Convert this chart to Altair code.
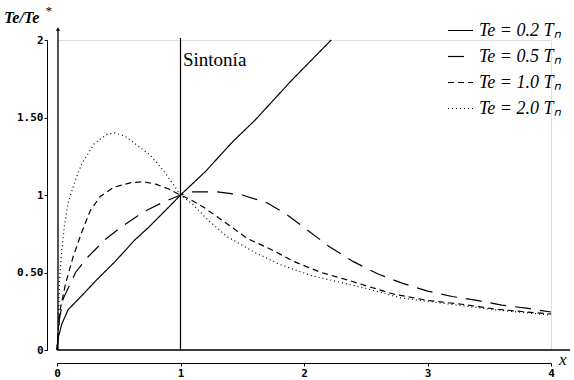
import altair as alt
import pandas as pd

# ---- data ----
series = ["Te = 0.2 Tₙ", "Te = 0.5 Tₙ", "Te = 1.0 Tₙ", "Te = 2.0 Tₙ"]

x_02 = [0, 0.01, 0.04, 0.09, 0.2, 0.33, 0.47, 0.63, 0.74, 0.94, 1.0, 1.2, 1.43, 1.6, 1.9, 2.22]
y_02 = [0, 0.08, 0.17, 0.26, 0.35, 0.46, 0.57, 0.71, 0.79, 0.95, 1.0, 1.15, 1.35, 1.48, 1.74, 2.0]

x_05 = [0, 0.01, 0.02, 0.05, 0.15, 0.25, 0.4, 0.55, 0.7, 0.85, 1.0, 1.1, 1.3, 1.5, 1.7, 1.85,
        2.0, 2.2, 2.4, 2.6, 2.8, 3.0, 3.2, 3.4, 3.6, 3.8, 4.0]
y_05 = [0, 0.1, 0.2, 0.33, 0.5, 0.6, 0.72, 0.81, 0.89, 0.95, 1.0, 1.02, 1.02, 1.0, 0.95, 0.88,
        0.79, 0.67, 0.57, 0.49, 0.43, 0.38, 0.345, 0.32, 0.29, 0.27, 0.245]

x_10 = [0, 0.01, 0.02, 0.07, 0.13, 0.2, 0.27, 0.35, 0.46, 0.6, 0.7, 0.8, 0.9, 1.0, 1.08, 1.19,
        1.35, 1.54, 1.73, 1.92, 2.14, 2.36, 2.52, 2.73, 3.0, 3.28, 3.54, 3.8, 4.0]
y_10 = [0, 0.12, 0.24, 0.43, 0.6, 0.76, 0.9, 0.99, 1.05, 1.08, 1.085, 1.07, 1.04, 1.0, 0.97, 0.92,
        0.83, 0.72, 0.65, 0.57, 0.5, 0.45, 0.41, 0.36, 0.32, 0.295, 0.265, 0.245, 0.232]

x_20 = [0, 0.01, 0.02, 0.04, 0.06, 0.09, 0.15, 0.2, 0.3, 0.4, 0.47, 0.55, 0.65, 0.75, 0.85, 0.95,
        1.0, 1.1, 1.22, 1.38, 1.6, 1.81, 2.06, 2.33, 2.49, 2.79, 3.14, 3.54, 4.0]
y_20 = [0, 0.12, 0.45, 0.65, 0.8, 0.95, 1.1, 1.2, 1.33, 1.39, 1.40, 1.38, 1.32, 1.26, 1.17, 1.06,
        1.0, 0.94, 0.84, 0.73, 0.63, 0.55, 0.48, 0.43, 0.40, 0.335, 0.30, 0.26, 0.225]

sintonia_x = 1
y_ticks = [0, 0.5, 1, 1.5, 2]
x_ticks = [0, 1, 2, 3, 4]

rows = []
for name, xs, ys in zip(series, [x_02, x_05, x_10, x_20], [y_02, y_05, y_10, y_20]):
    for i, (a, b) in enumerate(zip(xs, ys)):
        rows.append({"serie": name, "x": a, "y": b, "i": i})
df = pd.DataFrame(rows)

W, H = 494, 310
tick_font = "DejaVu Sans Mono"

lines = alt.Chart(df).mark_line(color="black", strokeWidth=1.2, clip=False).encode(
    x=alt.X("x:Q", scale=alt.Scale(domain=[0, 4], nice=False),
            axis=alt.Axis(values=x_ticks, title=None, grid=False, offset=13, format="d",
                          domainColor="black", tickColor="black", tickSize=3,
                          labelFont=tick_font, labelFontSize=11, labelFontWeight="bold",
                          labelColor="black", labelPadding=1, labelFlush=False)),
    y=alt.Y("y:Q", scale=alt.Scale(domain=[0, 2], nice=False),
            axis=alt.Axis(values=y_ticks, title=None, grid=False, offset=10,
                          domainColor="black", tickColor="black", tickSize=3,
                          labelFont=tick_font, labelFontSize=11, labelFontWeight="bold",
                          labelColor="black", labelPadding=1,
                          labelExpr="datum.value == 0.5 ? '0.50' : datum.value == 1.5 ? '1.50' : format(datum.value, 'd')")),
    strokeDash=alt.StrokeDash(
        "serie:N",
        sort=series,
        scale=alt.Scale(domain=series, range=[[1, 0], [16, 9], [6, 4], [1, 3]]),
        legend=alt.Legend(title=None, orient="none", legendX=390, legendY=-23,
                          labelFont="Liberation Serif", labelFontStyle="italic",
                          labelFontSize=18, labelColor="black", labelOffset=5,
                          symbolType="stroke", symbolStrokeColor="black",
                          symbolStrokeWidth=1.2, symbolSize=625, rowPadding=3),
    ),
    order="i:Q",
)

# tuning line x = 1
sint = alt.Chart(pd.DataFrame({"x": [sintonia_x]})).mark_rule(color="black", strokeWidth=1.2).encode(
    x="x:Q", y=alt.value(H), y2=alt.value(-2))
sint_label = alt.Chart(pd.DataFrame({"t": ["Sintonía"]})).mark_text(
    font="Liberation Serif", fontSize=19, align="left", baseline="middle", color="black").encode(
    x=alt.value(126), y=alt.value(20), text="t:N")

# y=0 baseline and x=0 vertical with arrow
base0 = alt.Chart(pd.DataFrame({"a": [0]})).mark_rule(color="black", strokeWidth=1.3).encode(
    x=alt.value(0), x2=alt.value(513), y=alt.value(H))
vert0 = alt.Chart(pd.DataFrame({"a": [0]})).mark_rule(color="black", strokeWidth=1.3).encode(
    x=alt.value(1), y=alt.value(H), y2=alt.value(-11))
arrow = alt.Chart(pd.DataFrame({"a": [0]})).mark_point(
    shape="triangle-up", filled=True, color="black", size=18, opacity=1).encode(
    x=alt.value(1), y=alt.value(-11))

xlab = alt.Chart(pd.DataFrame({"t": ["x"]})).mark_text(
    font="Liberation Serif", fontStyle="italic", fontSize=17, align="left", baseline="middle",
    color="black").encode(x=alt.value(502), y=alt.value(320), text="t:N")
ylab = alt.Chart(pd.DataFrame({"t": ["Te/Te"]})).mark_text(
    font="Liberation Serif", fontStyle="italic", fontWeight="bold", fontSize=16, align="left",
    baseline="middle", color="black").encode(x=alt.value(-53), y=alt.value(-22), text="t:N")
ystar = alt.Chart(pd.DataFrame({"t": ["*"]})).mark_text(
    font="Liberation Serif", fontStyle="italic", fontSize=13, align="left",
    baseline="middle", color="black").encode(x=alt.value(-12), y=alt.value(-29), text="t:N")

chart = alt.layer(lines, sint, sint_label, base0, vert0, arrow, xlab, ylab, ystar).properties(
    width=W, height=H,
    padding={"left": 57, "top": 40, "right": 23, "bottom": 30},
    autosize="none",
).configure_view(stroke=None).configure(background="white")

chart.save("out.html", embed_options={"renderer": "svg", "actions": False})
